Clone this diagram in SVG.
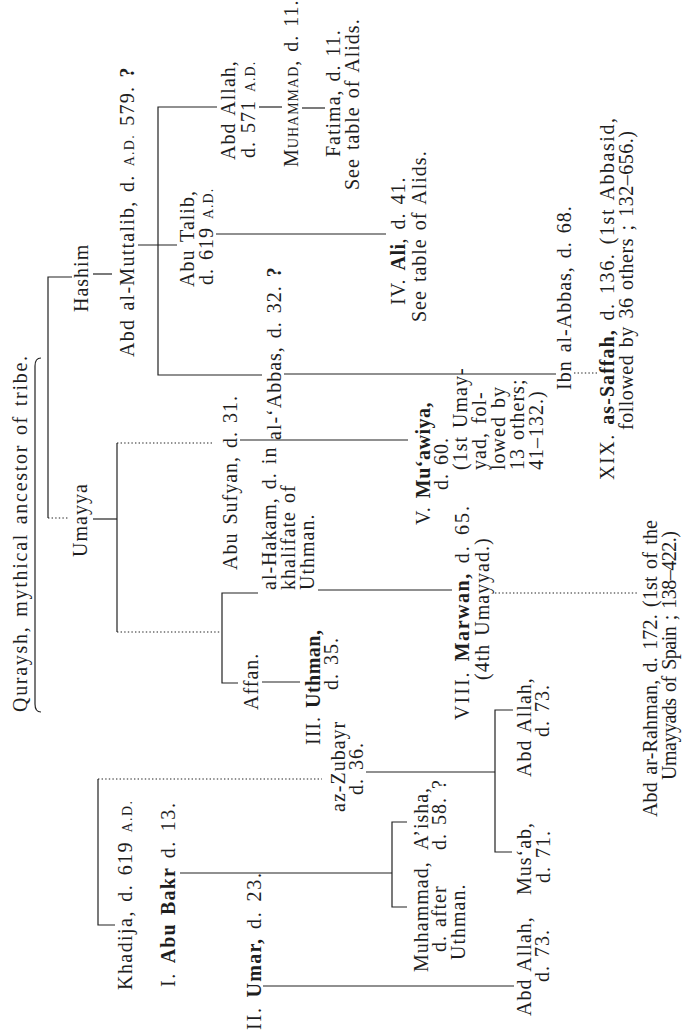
<svg xmlns="http://www.w3.org/2000/svg" width="682" height="1036" viewBox="0 0 682 1036">
<style>
.t{font-family:"Liberation Serif","Times New Roman",serif;font-size:20px;fill:#1e1e1e;letter-spacing:1px;word-spacing:2px}
.b{font-weight:bold;letter-spacing:0.5px}
.sc{font-size:14px}
.ln{stroke:#222;stroke-width:1.2;fill:none}
.dot{stroke-dasharray:1.4 2.2}
</style>
<rect width="682" height="1036" fill="#ffffff"/>
<g id="connectors">
<path class="ln" d="M41 358 Q35 358 35 366 V704 Q35 712 41 712"/>
<path class="ln" d="M72 277 H48 V518"/>
<path class="ln dot" d="M48 518 H68"/>
<path class="ln" d="M93 274 H112"/>
<path class="ln" d="M93 519 H117"/>
<path class="ln" d="M117 443 V632"/>
<path class="ln dot" d="M117 443 H213 M117 632 H220"/>
<path class="ln" d="M138 245 H177"/>
<path class="ln" d="M217 107 H158 V375 H262"/>
<path class="ln" d="M284 374 H556"/>
<path class="ln dot" d="M574 373 H597"/>
<path class="ln" d="M259 107 H282"/>
<path class="ln" d="M302 108 H325"/>
<path class="ln" d="M216 234 H386"/>
<path class="ln" d="M240 440 H408"/>
<path class="ln" d="M258 593 H222 V683 H238"/>
<path class="ln" d="M262 682 H300"/>
<path class="ln" d="M318 590 H452"/>
<path class="ln dot" d="M495 593 H637"/>
<path class="ln" d="M115 925 H98 V779"/>
<path class="ln dot" d="M98 779 H322"/>
<path class="ln" d="M180 873 H392"/>
<path class="ln" d="M407 822 H392 V907 H407"/>
<path class="ln" d="M366 772 H495"/>
<path class="ln" d="M513 710 H495 V852 H512"/>
<path class="ln" d="M263 986 H514"/>
</g>
<g id="quraysh"><text class="t" x="27" y="712" transform="rotate(-90 27 712)" textLength="357">Quraysh, mythical ancestor of tribe.</text></g>
<g id="hashim"><text class="t" x="88" y="312" transform="rotate(-90 88 312)">Hashim</text></g>
<g id="umayya"><text class="t" x="87" y="557" transform="rotate(-90 87 557)">Umayya</text></g>
<g id="abd-al-muttalib"><text class="t" x="134" y="357" transform="rotate(-90 134 357)" textLength="290">Abd al-Muttalib, d. <tspan class="sc">A.D.</tspan> 579. <tspan class="b">?</tspan></text></g>
<g id="abd-allah-father"><text class="t" x="235" y="160" transform="rotate(-90 235 160)">Abd Allah,</text><text class="t" x="255" y="158" transform="rotate(-90 255 158)">d. 571 <tspan class="sc">A.D.</tspan></text></g>
<g id="muhammad-prophet"><text class="t" x="298" y="167" transform="rotate(-90 298 167)">M<tspan class="sc">UHAMMAD</tspan>, d. 11.</text></g>
<g id="fatima"><text class="t" x="340" y="157" transform="rotate(-90 340 157)">Fatima, d. 11.</text><text class="t" x="359" y="190" transform="rotate(-90 359 190)">See table of Alids.</text></g>
<g id="abu-talib"><text class="t" x="194" y="287" transform="rotate(-90 194 287)">Abu Talib,</text><text class="t" x="213" y="285" transform="rotate(-90 213 285)">d. 619 <tspan class="sc">A.D.</tspan></text></g>
<g id="ali"><text class="t" x="405" y="305" transform="rotate(-90 405 305)">IV. <tspan class="b">Ali</tspan>, d. 41.</text><text class="t" x="426" y="322" transform="rotate(-90 426 322)">See table of Alids.</text></g>
<g id="al-abbas"><text class="t" x="281" y="440" transform="rotate(-90 281 440)">al-‘Abbas, d. 32. <tspan class="b">?</tspan></text></g>
<g id="ibn-al-abbas"><text class="t" x="571" y="390" transform="rotate(-90 571 390)">Ibn al-Abbas, d. 68.</text></g>
<g id="as-saffah"><text class="t" x="614" y="480" transform="rotate(-90 614 480)" textLength="363">XIX. <tspan class="b">as-Saffah,</tspan> d. 136.   (1st Abbasid,</text><text class="t" x="633" y="430" transform="rotate(-90 633 430)" textLength="300">followed by 36 others ; 132–656.)</text></g>
<g id="abu-sufyan"><text class="t" x="237" y="570" transform="rotate(-90 237 570)">Abu Sufyan, d. 31.</text></g>
<g id="affan"><text class="t" x="258" y="710" transform="rotate(-90 258 710)">Affan.</text></g>
<g id="al-hakam"><text class="t" x="276" y="590" transform="rotate(-90 276 590)">al-Hakam, d. in</text><text class="t" x="295" y="590" transform="rotate(-90 295 590)">khalifate of</text><text class="t" x="314" y="590" transform="rotate(-90 314 590)">Uthman.</text></g>
<g id="uthman"><text class="t" x="320" y="745" transform="rotate(-90 320 745)">III. <tspan class="b">Uthman,</tspan></text><text class="t" x="338" y="690" transform="rotate(-90 338 690)">d. 35.</text></g>
<g id="muawiya"><text class="t" x="430" y="525" transform="rotate(-90 430 525)">V. <tspan class="b">Mu‘awiya,</tspan></text><text class="t" x="448" y="490" transform="rotate(-90 448 490)">d. 60.</text><text class="t" x="467" y="470" transform="rotate(-90 467 470)">(1st Umay-</text><text class="t" x="486" y="470" transform="rotate(-90 486 470)">yad, fol-</text><text class="t" x="505" y="470" transform="rotate(-90 505 470)">lowed by</text><text class="t" x="524" y="470" transform="rotate(-90 524 470)">13 others;</text><text class="t" x="543" y="470" transform="rotate(-90 543 470)">41–132.)</text></g>
<g id="marwan"><text class="t" x="469" y="720" transform="rotate(-90 469 720)" textLength="215">VIII. <tspan class="b">Marwan,</tspan> d. 65.</text><text class="t" x="489" y="680" transform="rotate(-90 489 680)">(4th Umayyad.)</text></g>
<g id="abd-ar-rahman"><text class="t" x="657" y="817" transform="rotate(-90 657 817)" textLength="298">Abd ar-Rahman, d. 172.   (1st of the</text><text class="t" x="676" y="780" transform="rotate(-90 676 780)" textLength="250">Umayyads of Spain ; 138–422.)</text></g>
<g id="khadija"><text class="t" x="132" y="990" transform="rotate(-90 132 990)" textLength="190">Khadija, d. 619 <tspan class="sc">A.D.</tspan></text></g>
<g id="abu-bakr"><text class="t" x="175" y="987" transform="rotate(-90 175 987)" textLength="185">I. <tspan class="b">Abu Bakr</tspan> d. 13.</text></g>
<g id="umar"><text class="t" x="261" y="1030" transform="rotate(-90 261 1030)" textLength="158">II. <tspan class="b">Umar,</tspan> d. 23.</text></g>
<g id="az-zubayr"><text class="t" x="345" y="812" transform="rotate(-90 345 812)">az-Zubayr</text><text class="t" x="363" y="795" transform="rotate(-90 363 795)">d. 36.</text></g>
<g id="aisha"><text class="t" x="428" y="850" transform="rotate(-90 428 850)">A’isha,</text><text class="t" x="446" y="850" transform="rotate(-90 446 850)">d. 58. ?</text></g>
<g id="muhammad-abu-bakr"><text class="t" x="428" y="972" transform="rotate(-90 428 972)">Muhammad,</text><text class="t" x="446" y="952" transform="rotate(-90 446 952)">d. after</text><text class="t" x="465" y="960" transform="rotate(-90 465 960)">Uthman.</text></g>
<g id="abd-allah-zubayr"><text class="t" x="531" y="777" transform="rotate(-90 531 777)">Abd Allah,</text><text class="t" x="549" y="737" transform="rotate(-90 549 737)">d. 73.</text></g>
<g id="musab"><text class="t" x="531" y="895" transform="rotate(-90 531 895)">Mus‘ab,</text><text class="t" x="550" y="883" transform="rotate(-90 550 883)">d. 71.</text></g>
<g id="abd-allah-umar"><text class="t" x="531" y="1016" transform="rotate(-90 531 1016)">Abd Allah,</text><text class="t" x="549" y="982" transform="rotate(-90 549 982)">d. 73.</text></g>
</svg>
